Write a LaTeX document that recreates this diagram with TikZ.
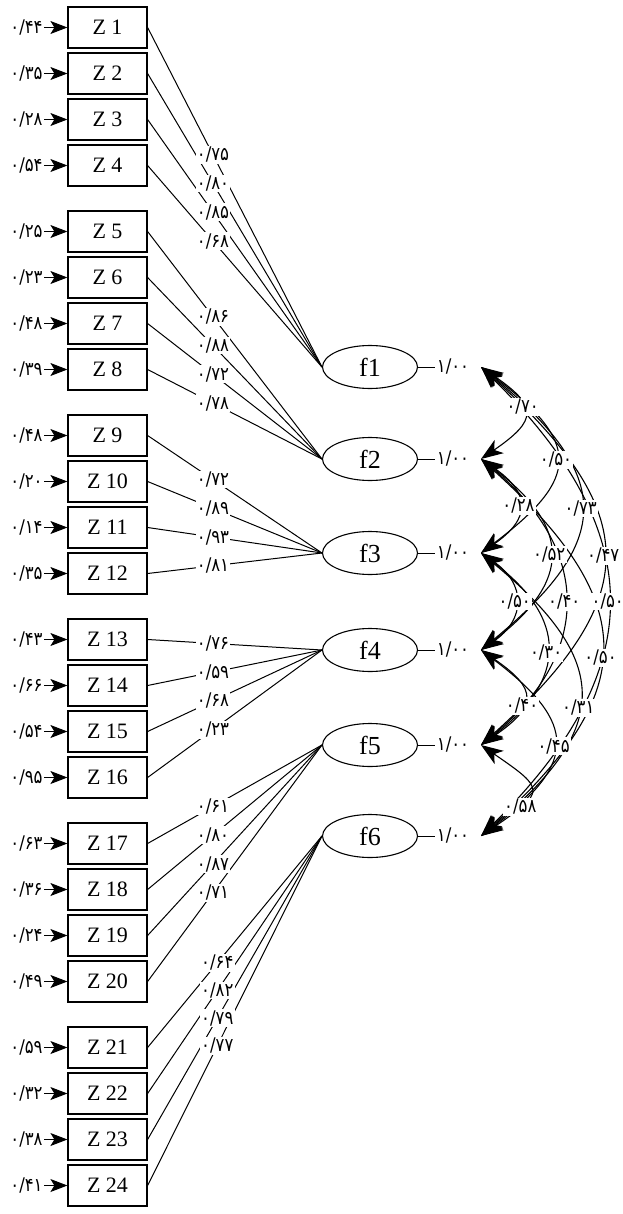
\documentclass[tikz,border=0pt]{standalone}
\usepackage{fontspec}
\setmainfont{Liberation Serif}
\newfontfamily\fa[Script=Arabic,FakeStretch=0.88]{DejaVu Sans}
\usetikzlibrary{arrows.meta,shapes.geometric}
\newcommand\pnum[1]{۰/#1}
\begin{document}
\begin{tikzpicture}[x=0.5pt,y=0.5pt,
  zbox/.style={draw, line width=0.6pt, minimum width=39.5pt, minimum height=20.5pt, inner sep=0pt, font=\fontsize{11}{12}\selectfont},
  fac/.style={draw, ellipse, line width=0.55pt, minimum width=47.5pt, minimum height=21.5pt, inner sep=0pt, font=\fontsize{13}{13}\selectfont},
  num/.style={font=\fa\fontsize{9.4}{10}\selectfont, inner sep=0.6pt},
  lbl/.style={num, fill=white},
  ln/.style={line width=0.5pt},
  err/.style={ln, -{Stealth[length=8.5pt,width=6.5pt,inset=2pt]}},
  cor/.style={line width=0.55pt, {Stealth[length=11pt,width=8pt,inset=3pt]}-{Stealth[length=11pt,width=8pt,inset=3pt]}},
]
\useasboundingbox (0,0) rectangle (622,-1214);

% observed variables with error terms
\foreach \n/\e in {1/۴۴,2/۳۵,3/۲۸,4/۵۴,5/۲۵,6/۲۳,7/۴۸,8/۳۹,9/۴۸,10/۲۰,11/۱۴,12/۳۵,
                   13/۴۳,14/۶۶,15/۵۴,16/۹۵,17/۶۳,18/۳۶,19/۲۴,20/۴۹,21/۵۹,22/۳۲,23/۳۸,24/۴۱} {
  \pgfmathtruncatemacro\g{int((\n-1)/4)}
  \pgfmathtruncatemacro\k{mod(\n-1,4)}
  \pgfmathsetmacro\y{27.5+204*\g+46*\k}
  \node[zbox] (z\n) at (107.5,-\y) {Z \n};
  \node[num] (e\n) at (26.5,-\y) {\pnum{\e}};
  \draw[err] (e\n) -- (z\n);
}

% factors
\foreach \i/\y in {1/367,2/459,3/553,4/650,5/745,6/836} {
  \node[fac] (f\i) at (370,-\y) {f\i};
  \node[num] (v\i) at (453,-\y) {۱/۰۰};
  \draw[ln] (f\i) -- (v\i);
  \coordinate (a\i) at (481,-\y);
}

% loadings (lines)
\foreach \n in {1,...,24} {
  \pgfmathtruncatemacro\f{int((\n-1)/4)+1}
  \pgfmathsetmacro\p{\f==6 ? 0.40 : 0.375}
  \draw[ln] (z\n.east) -- coordinate[pos=\p] (c\n) (f\f.west);
}

% correlations (arcs)
\foreach \i/\j/\c/\p in {1/2/57/0.42, 2/3/50/0.5, 3/4/45/0.5, 4/5/57/0.6, 5/6/65/0.72,
                         1/3/100/0.5, 2/4/91/0.5, 3/5/87/0.52, 4/6/97/0.52,
                         1/4/133/0.5, 2/5/111/0.5, 3/6/131/0.55,
                         1/5/163/0.5, 2/6/160/0.53, 1/6/169/0.5} {
  \pgfmathsetmacro\ang{32+2.5*(\j-\i)}
  \pgfmathsetmacro\d{\c*0.5/cos(\ang)}
  \draw[cor] (a\i) to[out=-\ang,in=\ang,distance=\d pt] coordinate[pos=\p] (r\i\j) (a\j);
}

% loading labels
\foreach \n/\l in {1/۷۵,2/۸۰,3/۸۵,4/۶۸,5/۸۶,6/۸۸,7/۷۲,8/۷۸,9/۷۲,10/۸۹,11/۹۳,12/۸۱,
                   13/۷۶,14/۵۹,15/۶۸,16/۲۳,17/۶۱,18/۸۰,19/۸۷,20/۷۱,21/۶۴,22/۸۲,23/۷۹,24/۷۷} {
  \node[lbl] (L\n) at (c\n) {\pnum{\l}};
}

% correlation labels
\foreach \i/\j/\l in {1/2/۷۰, 2/3/۲۸, 3/4/۵۰, 4/5/۴۰, 5/6/۵۸,
                      1/3/۵۰, 2/4/۵۲, 3/5/۳۰, 4/6/۴۵,
                      1/4/۷۳, 2/5/۴۰, 3/6/۳۱,
                      1/5/۴۷, 2/6/۵۰, 1/6/۵۰} {
  \node[lbl] (R\i\j) at (r\i\j) {\pnum{\l}};
}
\end{tikzpicture}
\end{document}
